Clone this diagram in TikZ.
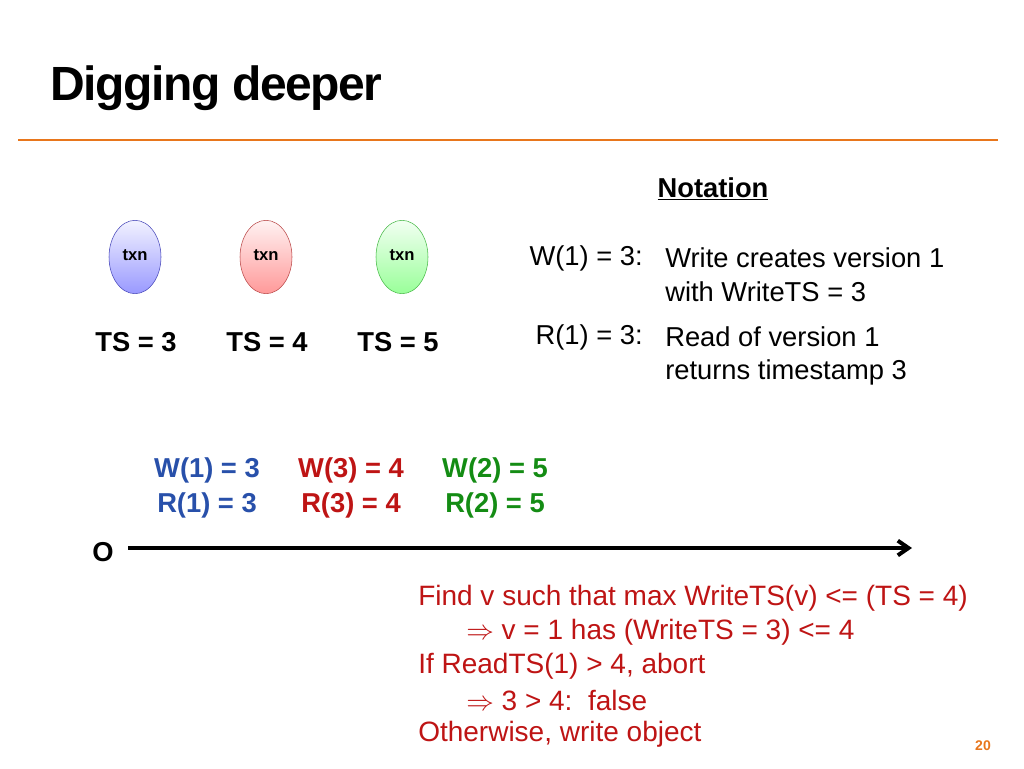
\documentclass[tikz,border=0pt]{standalone}
\usepackage{fontspec}
\setmainfont{Liberation Sans}
\usetikzlibrary{arrows.meta,shapes.geometric}
\definecolor{orng}{RGB}{232,118,28}
\definecolor{dred}{RGB}{190,20,20}
\definecolor{dblue}{RGB}{40,80,170}
\definecolor{dgreen}{RGB}{20,140,20}
\tikzset{
  txt/.style={font=\fontsize{20.5}{24}\selectfont, inner sep=0pt, anchor=west},
  rtxt/.style={txt, font=\fontsize{21}{24}\selectfont},
  btxt/.style={txt, font=\fontsize{20.5}{24}\selectfont\bfseries},
  txn/.style={ellipse, minimum width=39pt, minimum height=55pt, draw=#1!45!gray, line width=0.4pt, top color=#1!5, bottom color=#1!40, inner sep=0pt},
}
\begin{document}
\begin{tikzpicture}[x=0.75pt,y=-0.75pt]
\useasboundingbox (0,0) rectangle (1024,768);
\node[anchor=west, inner sep=0pt, font=\fontsize{36}{40}\selectfont\bfseries] (title) at (50,88) {\addfontfeature{LetterSpace=-3}Digging deeper};
\draw[orng, line width=2.2pt] (18,140) -- (998,140);
\node[btxt, anchor=center] (nota) at (713,189) {\underline{Notation}};
\node[txn=blue] (e1) at (135,257) {};
\node[txn=red] (e2) at (266,257) {};
\node[txn=green] (e3) at (402,257) {};
\foreach \e in {e1,e2,e3}{\node[font=\fontsize{12.5}{14}\selectfont\bfseries, inner sep=0pt] at ([yshift=1.5pt]\e.center) {txn};}
\node[btxt, anchor=center] (t1) at (136,342) {TS = 3};
\node[btxt, anchor=center] (t2) at (267,342) {TS = 4};
\node[btxt, anchor=center] (t3) at (398,342) {TS = 5};
\node[txt, anchor=east] (n1) at (643,258) {W(1) = 3:};
\node[txt] (n1a) at (665,258) {Write creates version 1};
\node[txt] (n1b) at (665,292) {with WriteTS = 3};
\node[txt, anchor=east] (n2) at (643,337) {R(1) = 3:};
\node[txt] (n2a) at (665,337) {Read of version 1};
\node[txt] (n2b) at (665,372) {returns timestamp 3};
\node[btxt, dblue, anchor=center] (w1) at (207,470) {W(1) = 3};
\node[btxt, dblue, anchor=center] (r1) at (207,505) {R(1) = 3};
\node[btxt, dred, anchor=center] (w3) at (351,470) {W(3) = 4};
\node[btxt, dred, anchor=center] (r3) at (351,505) {R(3) = 4};
\node[btxt, dgreen, anchor=center] (w2) at (495,470) {W(2) = 5};
\node[btxt, dgreen, anchor=center] (r2) at (495,505) {R(2) = 5};
\node[btxt, anchor=center] (o) at (103,552) {O};
\coordinate (as) at (128,548);
\coordinate (ae) at (912,548);
\draw[line width=3pt, -{Straight Barb[length=8pt,width=11pt]}] (as) -- (ae);
\begin{scope}[dred]
\node[rtxt] (f1) at (418,598) {Find v such that max WriteTS(v) <= (TS = 4)};
\node[rtxt] (f2) at (466,632) {$\Rightarrow$ v = 1 has (WriteTS = 3) <= 4};
\node[rtxt] (f3) at (418,666) {If ReadTS(1) > 4, abort};
\node[rtxt] (f4) at (466,700) {$\Rightarrow$ 3 > 4:\ \ false};
\node[rtxt] (f5) at (418,734) {Otherwise, write object};
\end{scope}
\node[anchor=center, inner sep=0pt, orng, font=\fontsize{10.5}{12}\selectfont\bfseries] (pg) at (983,746) {20};
\end{tikzpicture}
\end{document}
